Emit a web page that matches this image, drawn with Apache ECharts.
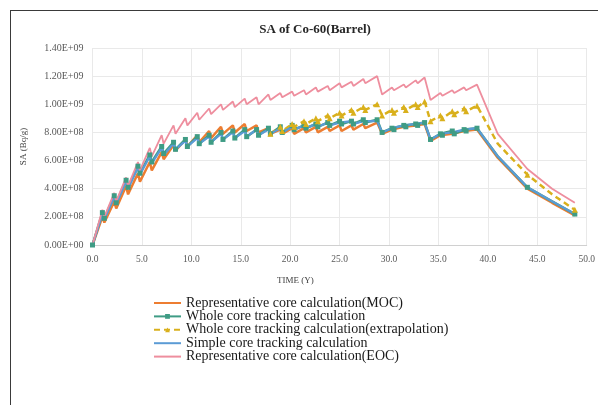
<!DOCTYPE html>
<html>
<head>
<meta charset="utf-8">
<script src="https://cdn.jsdelivr.net/npm/echarts@6/dist/echarts.min.js"></script>
<style>
  html, body { margin: 0; padding: 0; background: #ffffff; }
  #chart { width: 598px; height: 405px; }
</style>
</head>
<body>
<div id="chart"></div>
<script>
// Time points (years): cycle peaks and outage troughs, then decay after shutdown
const years = [0, 1.0, 1.2, 2.2, 2.4, 3.4, 3.6, 4.6, 4.8, 5.8, 6.0, 7.0, 7.2, 8.2, 8.4,
  9.4, 9.6, 10.6, 10.8, 11.8, 12.0, 13.0, 13.2, 14.2, 14.4, 15.4, 15.6, 16.6, 16.8,
  17.8, 18.0, 19.0, 19.2, 20.2, 20.4, 21.4, 21.6, 22.6, 22.8, 23.8, 24.0, 25.0, 25.2,
  26.2, 26.4, 27.4, 27.6, 28.8, 29.3, 30.3, 30.5, 31.5, 31.7, 32.7, 32.9, 33.6, 34.2,
  35.2, 35.4, 36.4, 36.6, 37.6, 37.8, 38.9, 41.0, 44.0, 46.5, 48.8];

// Time points carrying a marker on the tracking curves (decay tail has markers at 44 and 48.8 only)
const markedYears = years.filter((t) => t !== 41.0 && t !== 46.5);

// Specific activity values in units of 1E+08 Bq/g
const repMOC = [0, 2.0, 1.6, 3.1, 2.6, 4.2, 3.6, 5.1, 4.5, 5.9, 5.3, 6.6, 6.1, 7.1, 6.7,
  7.5, 7.0, 7.8, 7.3, 8.1, 7.6, 8.4, 7.9, 8.5, 8.0, 8.6, 8.1, 8.5, 8.0,
  8.3, 7.9, 8.2, 7.9, 8.3, 7.9, 8.3, 8.0, 8.4, 8.0, 8.4, 8.1, 8.5, 8.1,
  8.5, 8.2, 8.6, 8.3, 8.7, 7.9, 8.2, 8.1, 8.4, 8.3, 8.5, 8.4, 8.6, 7.4,
  7.8, 7.7, 7.9, 7.8, 8.1, 8.0, 8.2, 6.2, 4.0, 3.0, 2.1];

const wholeCore = [0, 2.3, 1.9, 3.5, 3.0, 4.6, 4.1, 5.6, 5.1, 6.4, 5.9, 7.0, 6.5, 7.3, 6.8,
  7.5, 7.0, 7.7, 7.2, 7.8, 7.3, 8.0, 7.5, 8.1, 7.6, 8.2, 7.7, 8.2, 7.8,
  8.3, 7.9, 8.4, 8.0, 8.5, 8.2, 8.5, 8.3, 8.6, 8.4, 8.7, 8.5, 8.8, 8.6,
  8.8, 8.6, 8.9, 8.7, 8.9, 8.0, 8.3, 8.2, 8.5, 8.4, 8.6, 8.5, 8.7, 7.5,
  7.9, 7.8, 8.1, 7.9, 8.2, 8.1, 8.3, 6.3, 4.1, 3.1, 2.2];

const wholeCoreExtrap = [null, null, null, null, null, null, null, null, null, null, null,
  null, null, null, null, null, null, null, null, null, null, null, null, null, null,
  null, null, null, null, null, 7.9, 8.4, 8.1, 8.6, 8.4, 8.8, 8.6, 9.0, 8.8, 9.2, 9.0,
  9.4, 9.2, 9.6, 9.4, 9.8, 9.6, 10.0, 9.2, 9.6, 9.4, 9.8, 9.6, 10.0, 9.8, 10.2, 8.8,
  9.2, 9.0, 9.5, 9.3, 9.7, 9.5, 9.9, 7.2, 5.0, 3.6, 2.5];

const simpleCore = [0, 2.2, 1.8, 3.4, 2.9, 4.5, 4.0, 5.5, 5.0, 6.3, 5.8, 6.9, 6.4, 7.2, 6.8,
  7.4, 7.0, 7.6, 7.2, 7.7, 7.3, 7.9, 7.5, 8.0, 7.6, 8.1, 7.7, 8.2, 7.8,
  8.2, 7.9, 8.3, 8.0, 8.4, 8.2, 8.5, 8.3, 8.6, 8.4, 8.7, 8.5, 8.7, 8.6,
  8.8, 8.6, 8.8, 8.7, 8.8, 8.0, 8.3, 8.2, 8.5, 8.4, 8.6, 8.5, 8.7, 7.5,
  7.9, 7.8, 8.0, 7.9, 8.2, 8.1, 8.3, 6.3, 4.1, 3.1, 2.2];

const repEOC = [0, 2.5, 2.0, 3.7, 3.1, 4.8, 4.2, 5.9, 5.3, 6.9, 6.3, 7.8, 7.2, 8.5, 7.9,
  9.0, 8.5, 9.4, 8.9, 9.7, 9.3, 10.0, 9.6, 10.2, 9.8, 10.4, 10.0, 10.5, 10.0,
  10.7, 10.3, 10.8, 10.5, 10.9, 10.6, 11.0, 10.7, 11.2, 10.9, 11.3, 11.0, 11.5, 11.2,
  11.6, 11.3, 11.8, 11.5, 12.0, 10.7, 11.2, 11.0, 11.4, 11.2, 11.7, 11.5, 11.9, 10.3,
  10.8, 10.6, 11.0, 10.8, 11.2, 11.0, 11.4, 7.9, 5.4, 4.0, 3.0];

const seriesNames = [
  'Representative core calculation(MOC)',
  'Whole core tracking calculation',
  'Whole core tracking calculation(extrapolation)',
  'Simple core tracking calculation',
  'Representative core calculation(EOC)'
];

const yTickLabels = ['0.00E+00', '2.00E+08', '4.00E+08', '6.00E+08', '8.00E+08',
  '1.00E+09', '1.20E+09', '1.40E+09'];
const xTickLabels = ['0.0', '5.0', '10.0', '15.0', '20.0', '25.0', '30.0', '35.0',
  '40.0', '45.0', '50.0'];

const UNIT = 1e8;

function pairs(vals, withMarks) {
  return years.map((t, i) => {
    const v = vals[i] == null ? null : vals[i] * UNIT;
    if (withMarks && markedYears.indexOf(t) < 0) {
      return { value: [t, v], symbol: 'none' };
    }
    return [t, v];
  });
}

// Plain-line series show only their stroke in the legend
const legendItems = seriesNames.map((name, i) =>
  (i === 1 || i === 2) ? { name } : { name, itemStyle: { opacity: 0 } });

const serif = '"Liberation Serif", "DejaVu Serif", serif';
const chart = echarts.init(document.getElementById('chart'), null, { renderer: 'canvas' });

chart.setOption({
  animation: false,
  backgroundColor: '#ffffff',
  title: {
    text: 'SA of Co-60(Barrel)',
    left: 310, top: 18, textAlign: 'center',
    textStyle: { fontFamily: serif, fontSize: 13, fontWeight: 'bold', color: '#262626' }
  },
  graphic: [
    { type: 'line', shape: { x1: 10, y1: 10.5, x2: 598, y2: 10.5 },
      style: { stroke: '#3a3a3a', lineWidth: 1 } },
    { type: 'line', shape: { x1: 10.5, y1: 10, x2: 10.5, y2: 405 },
      style: { stroke: '#3a3a3a', lineWidth: 1 } },
    { type: 'text', left: 277, top: 276,
      style: { text: 'TIME (Y)', font: '9px "Liberation Serif", serif', fill: '#404040' } }
  ],
  grid: { left: 92.5, right: 9.5, top: 48, bottom: 160, containLabel: false },
  legend: {
    orient: 'vertical', left: 153, top: 296, padding: 0,
    itemWidth: 27, itemHeight: 6, itemGap: -0.6,
    data: legendItems,
    textStyle: { fontFamily: serif, fontSize: 14, color: '#1a1a1a', lineHeight: 13 }
  },
  xAxis: {
    type: 'value', min: 0, max: 50, interval: 5,
    axisLine: { show: true, lineStyle: { color: '#d0d0d0' } },
    axisTick: { show: false },
    splitLine: { show: true, lineStyle: { color: '#e9e9e9' } },
    axisLabel: {
      fontFamily: serif, fontSize: 9.5, color: '#595959', margin: 9,
      formatter: (v) => xTickLabels[Math.round(v / 5)]
    }
  },
  yAxis: {
    type: 'value', min: 0, max: 1.4e9, interval: 2e8,
    name: 'SA (Bq/g)', nameLocation: 'middle', nameGap: 64, nameRotate: 90,
    nameTextStyle: { fontFamily: serif, fontSize: 9, color: '#404040' },
    axisLine: { show: false },
    axisTick: { show: false },
    splitLine: { show: true, lineStyle: { color: '#e9e9e9' } },
    axisLabel: {
      fontFamily: serif, fontSize: 10, color: '#595959', margin: 9,
      formatter: (v) => yTickLabels[Math.round(v / 2e8)]
    }
  },
  series: [
    {
      name: seriesNames[0], type: 'line', data: pairs(repMOC, false),
      showSymbol: false, color: '#ED7D31',
      lineStyle: { width: 2.5, color: '#ED7D31' }
    },
    {
      name: seriesNames[1], type: 'line', data: pairs(wholeCore, true),
      symbol: 'rect', symbolSize: 5, color: '#3F9C85',
      itemStyle: { color: '#3F9C85' },
      lineStyle: { width: 2.5, color: '#3F9C85' }
    },
    {
      name: seriesNames[2], type: 'line', data: pairs(wholeCoreExtrap, true),
      symbol: 'triangle', symbolSize: 6, color: '#D9B01C',
      itemStyle: { color: '#D9B01C' },
      lineStyle: { width: 2.5, color: '#D9B01C', type: [6, 4] }
    },
    {
      name: seriesNames[3], type: 'line', data: pairs(simpleCore, false),
      showSymbol: false, color: '#5B9BD5',
      lineStyle: { width: 2.2, color: '#5B9BD5' }
    },
    {
      name: seriesNames[4], type: 'line', data: pairs(repEOC, false),
      showSymbol: false, color: '#EE8E9E',
      lineStyle: { width: 1.8, color: '#EE8E9E' }
    }
  ]
});
</script>
</body>
</html>
